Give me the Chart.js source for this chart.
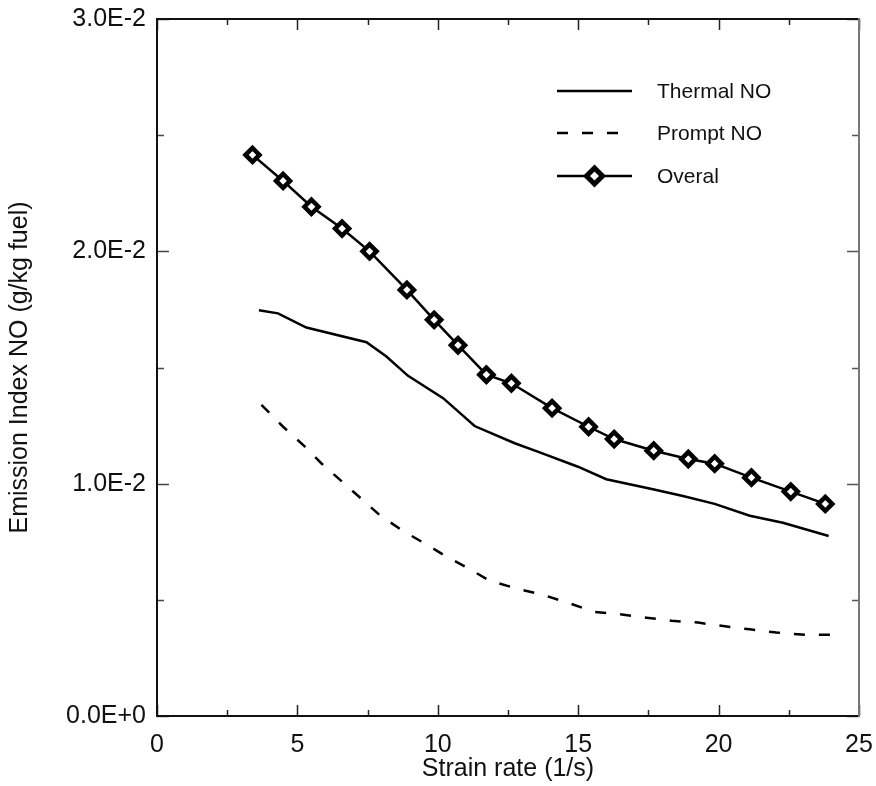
<!DOCTYPE html>
<html>
<head>
<meta charset="utf-8">
<script src="https://cdn.jsdelivr.net/npm/chart.js@4"></script>
<style>
  html, body { margin: 0; padding: 0; background: #fff; }
  #wrap { width: 876px; height: 786px; }
</style>
</head>
<body>
<div id="wrap"><canvas id="c" width="876" height="786"></canvas></div>
<script>
// ---- data ----
const seriesNames = ['Thermal NO', 'Prompt NO', 'Overal'];

const thermalX = [3.63, 4.31, 5.32, 7.46, 8.17, 8.94, 10.19, 11.31, 12.74, 13.63, 14.99, 16.00, 17.66, 18.73, 19.86, 21.11, 22.29, 23.92];
const thermalY = [0.01746, 0.01733, 0.01672, 0.01609, 0.01547, 0.01464, 0.01368, 0.01248, 0.01174, 0.01135, 0.01073, 0.01019, 0.00976, 0.00947, 0.00913, 0.00862, 0.00832, 0.00775];

const promptX = [3.72, 4.49, 5.20, 5.85, 7.93, 8.70, 9.53, 10.31, 11.08, 11.85, 12.86, 13.75, 14.70, 15.53, 16.48, 17.43, 18.32, 19.27, 20.16, 21.11, 22.06, 23.13, 24.10];
const promptY = [0.01339, 0.01245, 0.01167, 0.01088, 0.00865, 0.00801, 0.00743, 0.00686, 0.00636, 0.00582, 0.00547, 0.00521, 0.00485, 0.00449, 0.00438, 0.00423, 0.00410, 0.00402, 0.00387, 0.00373, 0.00359, 0.00349, 0.00350];

const overalX = [3.40, 4.49, 5.50, 6.59, 7.57, 8.90, 9.87, 10.72, 11.73, 12.62, 14.07, 15.37, 16.28, 17.69, 18.92, 19.86, 21.17, 22.57, 23.80];
const overalY = [0.02415, 0.02303, 0.02192, 0.02098, 0.02000, 0.01834, 0.01705, 0.01596, 0.01469, 0.01432, 0.01325, 0.01245, 0.01192, 0.01142, 0.01106, 0.01086, 0.01026, 0.00966, 0.00913];

const xMajorTicks = [0, 5, 10, 15, 20, 25];
const xMinorTicks = [2.5, 7.5, 12.5, 17.5, 22.5];
const yMajorTicks = [0, 0.01, 0.02, 0.03];
const yMinorTicks = [0.005, 0.015, 0.025];
const yTickLabels = ['0.0E+0', '1.0E-2', '2.0E-2', '3.0E-2'];
const xTickLabels = ['0', '5', '10', '15', '20', '25'];

const xTitle = 'Strain rate (1/s)';
const yTitle = 'Emission Index NO (g/kg fuel)';

const FONT = "'Liberation Sans', Arial, sans-serif";

function pts(xs, ys) { return xs.map((x, i) => ({ x: x, y: ys[i] })); }
function noPad(s) { s.paddingTop = 0; s.paddingBottom = 0; s.paddingLeft = 0; s.paddingRight = 0; }

// ---- frame with inward ticks on all sides ----
const framePlugin = {
  id: 'frame',
  afterDatasetsDraw(chart) {
    const { ctx, chartArea: a, scales } = chart;
    const xs = scales.x, ys = scales.y;
    ctx.save();
    ctx.lineCap = 'butt';
    const tick = (x1, y1, x2, y2, col) => {
      ctx.strokeStyle = col; ctx.lineWidth = 1.5;
      ctx.beginPath(); ctx.moveTo(x1, y1); ctx.lineTo(x2, y2); ctx.stroke();
    };
    xMajorTicks.forEach(v => {
      const px = Math.round(xs.getPixelForValue(v)) + 0.5;
      tick(px, a.bottom, px, a.bottom - 11, '#222');
      tick(px, a.top, px, a.top + 11, '#222');
    });
    xMinorTicks.forEach(v => {
      const px = Math.round(xs.getPixelForValue(v)) + 0.5;
      tick(px, a.bottom, px, a.bottom - 6, '#222');
      tick(px, a.top, px, a.top + 6, '#222');
    });
    yMajorTicks.forEach(v => {
      const py = Math.round(ys.getPixelForValue(v)) + 0.5;
      tick(a.left, py, a.left + 12, py, '#444');
      tick(a.right, py, a.right - 12, py, '#555');
    });
    yMinorTicks.forEach(v => {
      const py = Math.round(ys.getPixelForValue(v)) + 0.5;
      tick(a.left, py, a.left + 7, py, '#444');
      tick(a.right, py, a.right - 7, py, '#555');
    });
    ctx.lineWidth = 2;
    ctx.strokeStyle = '#111';
    ctx.beginPath();
    ctx.moveTo(a.right, a.top); ctx.lineTo(a.left, a.top); ctx.lineTo(a.left, a.bottom); ctx.lineTo(a.right, a.bottom);
    ctx.stroke();
    ctx.strokeStyle = '#777';
    ctx.beginPath(); ctx.moveTo(a.right, a.top - 1); ctx.lineTo(a.right, a.bottom + 1); ctx.stroke();
    ctx.restore();
  }
};

// ---- legend drawn inside the plot ----
const legendPlugin = {
  id: 'insideLegend',
  afterDraw(chart) {
    const { ctx } = chart;
    const x0 = 557, x1 = 632, tx = 657;
    const rows = [91, 133, 176];
    ctx.save();
    chart.data.datasets.forEach((ds, i) => {
      const y = rows[i];
      ctx.strokeStyle = '#000';
      ctx.lineWidth = 2.5;
      ctx.setLineDash(ds.borderDash || []);
      ctx.beginPath(); ctx.moveTo(x0, y); ctx.lineTo(x1, y); ctx.stroke();
      ctx.setLineDash([]);
      if (ds.pointRadius > 0) {
        ctx.fillStyle = '#fff';
        ctx.strokeStyle = '#000';
        ctx.lineWidth = 5;
        Chart.helpers.drawPoint(ctx, {
          pointStyle: ds.pointStyle, rotation: 0, radius: 8, borderWidth: 5
        }, (x0 + x1) / 2, y);
      }
      ctx.fillStyle = '#111';
      ctx.font = '21px ' + FONT;
      ctx.textAlign = 'left';
      ctx.textBaseline = 'middle';
      ctx.fillText(ds.label, tx, y + 1);
    });
    ctx.restore();
  }
};

new Chart(document.getElementById('c'), {
  type: 'line',
  data: {
    datasets: [
      {
        label: seriesNames[0], data: pts(thermalX, thermalY),
        borderColor: '#000', borderWidth: 2.5, pointRadius: 0, tension: 0, fill: false
      },
      {
        label: seriesNames[1], data: pts(promptX, promptY),
        borderColor: '#000', borderWidth: 2.5, borderDash: [11, 14], pointRadius: 0, tension: 0, fill: false
      },
      {
        label: seriesNames[2], data: pts(overalX, overalY),
        borderColor: '#000', borderWidth: 2.5, tension: 0, fill: false,
        pointStyle: 'rectRot', pointRadius: 7, pointBorderWidth: 4.5,
        pointBackgroundColor: '#fff', pointBorderColor: '#000', pointHoverRadius: 7
      }
    ]
  },
  options: {
    responsive: false,
    animation: false,
    events: [],
    layout: { padding: { top: 19, right: 17, left: 0, bottom: 0 } },
    plugins: { legend: { display: false }, tooltip: { enabled: false } },
    scales: {
      x: {
        type: 'linear', min: 0, max: 25,
        afterBuildTicks: s => { s.ticks = xMajorTicks.map(v => ({ value: v })); },
        afterFit: s => { s.height = 70; noPad(s); },
        grid: { display: false, drawTicks: false },
        border: { display: false },
        ticks: {
          padding: 14, color: '#111', font: { family: FONT, size: 25 },
          callback: (v, i) => xTickLabels[i]
        },
        title: {
          display: true, text: xTitle, color: '#111',
          font: { family: FONT, size: 25 }, padding: { top: 0, bottom: 2 }
        }
      },
      y: {
        type: 'linear', min: 0, max: 0.03,
        afterBuildTicks: s => { s.ticks = yMajorTicks.map(v => ({ value: v })); },
        afterFit: s => { s.width = 157; noPad(s); },
        grid: { display: false, drawTicks: false },
        border: { display: false },
        ticks: {
          padding: 11, color: '#111', font: { family: FONT, size: 25 },
          callback: (v, i) => yTickLabels[i]
        },
        title: {
          display: true, text: yTitle, color: '#111',
          font: { family: FONT, size: 25 }, padding: { top: 5, bottom: 0 }
        }
      }
    }
  },
  plugins: [framePlugin, legendPlugin]
});
</script>
</body>
</html>
